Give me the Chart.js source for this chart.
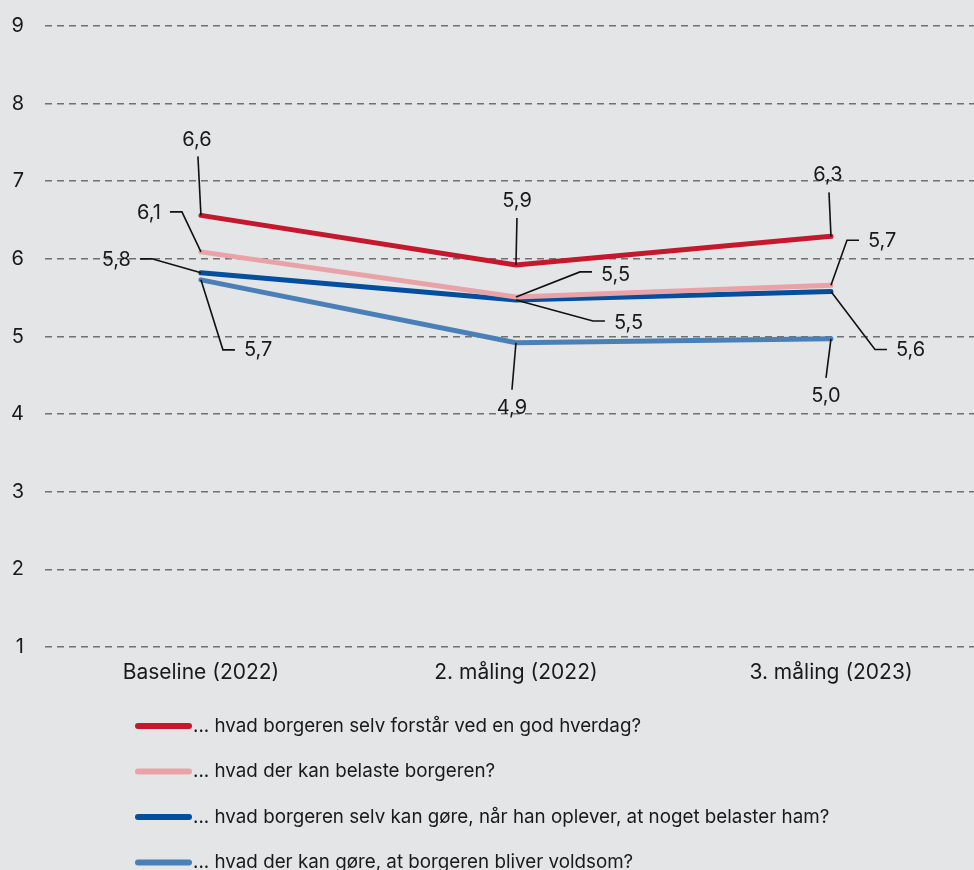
<!DOCTYPE html>
<html>
<head>
<meta charset="utf-8">
<script src="https://cdn.jsdelivr.net/npm/chart.js@4/dist/chart.umd.min.js"></script>
<style>
  html, body { margin: 0; padding: 0; background: #e4e5e6; }
  #wrap { width: 974px; height: 870px; position: relative; }
</style>
</head>
<body>
<div id="wrap"><canvas id="lineChart" width="974" height="870"></canvas></div>
<script>
// categories + series values
const categories = ["Baseline (2022)", "2. måling (2022)", "3. måling (2023)"];
const seriesNames = [
  "... hvad borgeren selv forstår ved en god hverdag?",
  "... hvad der kan belaste borgeren?",
  "... hvad borgeren selv kan gøre, når han oplever, at noget belaster ham?",
  "... hvad der kan gøre, at borgeren bliver voldsom?"
];
const hverdag = [6.56, 5.92, 6.29];
const belaste = [6.09, 5.51, 5.66];
const selvGoere = [5.82, 5.47, 5.58];
const voldsom = [5.73, 4.92, 4.97];
const yTicks = [1, 2, 3, 4, 5, 6, 7, 8, 9];

const colors = ["#c3182e", "#e8a3a8", "#034e9d", "#4a80b7"];

// label placement: leader line point -> elbow -> end, text anchor (offsets in px from the point)
const labelLayout = [
  [ {elbow:[-3,-59], end:[-3,-59], text:[-4,-75], align:"center"},
    {elbow:[1,-47], end:[1,-47], text:[1,-64], align:"center"},
    {elbow:[-2,-44], end:[-2,-44], text:[-3,-61], align:"center"} ],
  [ {elbow:[-19,-40], end:[-31,-40], text:[-40,-39], align:"right"},
    {elbow:[64,-25], end:[76,-25], text:[85,-22], align:"left"},
    {elbow:[16,-45], end:[28,-45], text:[37,-44], align:"left"} ],
  [ {elbow:[-49,-14], end:[-61,-14], text:[-70,-13], align:"right"},
    {elbow:[77,21], end:[89,21], text:[98,23], align:"left"},
    {elbow:[44,58], end:[56,58], text:[65,59], align:"left"} ],
  [ {elbow:[22,70], end:[34,70], text:[43,70], align:"left"},
    {elbow:[-4,47], end:[-4,47], text:[-4,65], align:"center"},
    {elbow:[-5,39], end:[-5,39], text:[-5,57], align:"center"} ]
];

const FONT = "Inter, 'Noto Sans', sans-serif";

const valueLabels = {
  id: "valueLabels",
  afterDatasetsDraw(chart) {
    const c = chart.ctx;
    c.save();
    c.font = "20px " + FONT;
    c.textBaseline = "middle";
    c.fillStyle = "#1a1a1a";
    c.strokeStyle = "#111";
    c.lineWidth = 1.6;
    chart.data.datasets.forEach((ds, i) => {
      const meta = chart.getDatasetMeta(i);
      meta.data.forEach((pt, j) => {
        const L = labelLayout[i][j];
        c.beginPath();
        c.moveTo(pt.x, pt.y);
        c.lineTo(pt.x + L.elbow[0], pt.y + L.elbow[1]);
        c.lineTo(pt.x + L.end[0], pt.y + L.end[1]);
        c.stroke();
        c.textAlign = L.align;
        c.fillText(ds.data[j].y.toFixed(1).replace(".", ","), pt.x + L.text[0], pt.y + L.text[1]);
      });
    });
    c.restore();
  }
};

const bottomLegend = {
  id: "bottomLegend",
  afterDraw(chart) {
    const c = chart.ctx;
    c.save();
    c.font = "18.8px " + FONT;
    c.textBaseline = "middle";
    c.textAlign = "left";
    c.lineCap = "round";
    chart.data.datasets.forEach((ds, i) => {
      const y = 726 + i * 45.5;
      c.strokeStyle = ds.borderColor;
      c.lineWidth = 6;
      c.beginPath();
      c.moveTo(138, y);
      c.lineTo(189, y);
      c.stroke();
      c.fillStyle = "#1a1a1a";
      c.fillText(ds.label, 193, y);
    });
    c.restore();
  }
};

const allSeries = [hverdag, belaste, selvGoere, voldsom];

const ctx = document.getElementById("lineChart");
const chart = new Chart(ctx, {
  type: "line",
  data: {
    datasets: allSeries.map((vals, i) => ({
      label: seriesNames[i],
      data: vals.map((v, k) => ({ x: k, y: v })),
      borderColor: colors[i],
      backgroundColor: colors[i],
      borderWidth: 5,
      pointRadius: 0,
      tension: 0,
      borderCapStyle: "round",
      borderJoinStyle: "miter",
      order: i
    }))
  },
  options: {
    responsive: false,
    animation: false,
    layout: { padding: { top: 26, right: 0, bottom: 173, left: 0 } },
    plugins: {
      legend: { display: false },
      tooltip: { enabled: false }
    },
    scales: {
      x: {
        type: "linear",
        min: -0.495,
        max: 2.454,
        afterFit: (s) => { s.height = 50; s.paddingLeft = 0; s.paddingRight = 0; },
        afterBuildTicks: (s) => { s.ticks = categories.map((_, k) => ({ value: k })); },
        ticks: {
          callback: (v) => categories[v],
          font: { family: FONT, size: 21 },
          color: "#1a1a1a",
          padding: 13,
          maxRotation: 0,
          autoSkip: false
        },
        grid: { display: false, drawTicks: false },
        border: { display: false }
      },
      y: {
        min: 1,
        max: 9,
        afterFit: (s) => { s.width = 45; s.paddingTop = 0; s.paddingBottom = 0; },
        afterBuildTicks: (s) => { s.ticks = yTicks.map(v => ({ value: v })); },
        ticks: {
          font: { family: FONT, size: 20 },
          color: "#1a1a1a",
          padding: 21
        },
        grid: {
          color: "#6f7072",
          lineWidth: 1.6,
          drawTicks: false
        },
        border: { display: false, dash: [7, 5] }
      }
    }
  },
  plugins: [valueLabels, bottomLegend]
});
</script>
</body>
</html>
